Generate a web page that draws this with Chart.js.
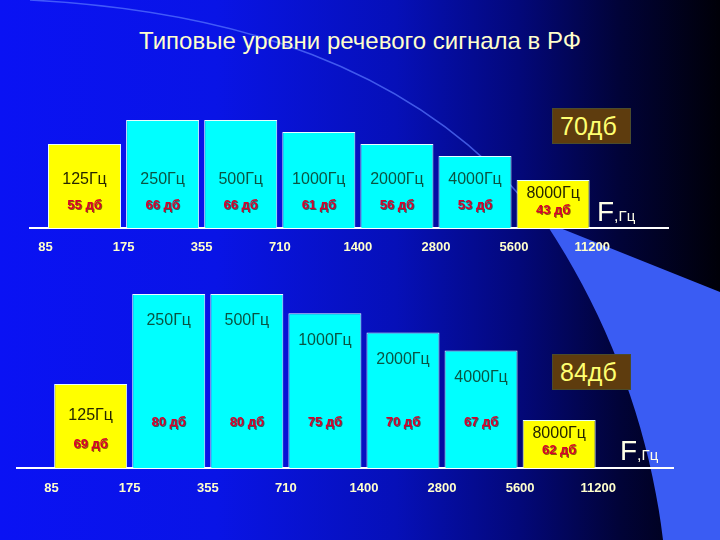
<!DOCTYPE html>
<html lang="ru">
<head>
<meta charset="UTF-8">
<script src="https://cdn.jsdelivr.net/npm/chart.js"></script>
<title>Типовые уровни речевого сигнала в РФ</title>
<style>
  html, body { margin: 0; padding: 0; }
  body {
    width: 720px; height: 540px; position: relative; overflow: hidden;
    background: linear-gradient(90deg, #0a12f4 0%, #0914e6 30%, #0610b8 55%, #03087a 72%, #010338 86%, #000008 100%);
    font-family: "Liberation Sans", Arial, sans-serif;
  }
  #bg, canvas { position: absolute; left: 0; top: 0; }
  h1 {
    position: absolute; margin: 0; left: 0; width: 720px; top: 27px;
    text-align: center; font-weight: normal; font-size: 24px; color: #ffffcc;
  }
  .total {
    position: absolute; width: 79px; height: 36px; box-sizing: border-box;
    background: #5e3c0e; border: 1px solid #4b4b2c; color: #ffff70;
    font-size: 25px; line-height: 34px; padding-left: 7px;
  }
  .unit { position: absolute; color: #ffffe8; white-space: nowrap; line-height: 28px; }
  .unit .f { font-size: 28px; }
  .unit .hz { font-size: 15px; }
</style>
</head>
<body>

<svg id="bg" width="720" height="540">
  <path d="M545,222 L720,292 L720,540 L663,540 C650,430 610,320 545,222 Z" fill="#3a5cf3"/>
  <path d="M30,0 C220,10 420,60 545,226" fill="none" stroke="#5a78ff" stroke-width="1.5" opacity="0.7"/>
</svg>

<h1>Типовые уровни речевого сигнала в РФ</h1>

<canvas id="chart70" width="720" height="540"></canvas>
<canvas id="chart84" width="720" height="540"></canvas>

<div class="total" id="total70" style="left:552px;top:108px"></div>
<div class="total" id="total84" style="left:552px;top:354px"></div>
<div class="unit" style="left:597px;top:198px"><span class="f">F</span>,<span class="hz">Гц</span></div>
<div class="unit" style="left:620px;top:437px"><span class="f">F</span>,<span class="hz">Гц</span></div>

<script>
// octave band edges and centres, Hz
const bandEdges = [85, 175, 355, 710, 1400, 2800, 5600, 11200];
const centerFreqs = [125, 250, 500, 1000, 2000, 4000, 8000];

// upper chart, total level 70 dB
const levels70 = [55, 66, 66, 61, 56, 53, 43];
const bars70 = [7, 9, 9, 8, 7, 6, 4];

// lower chart, total level 84 dB
const levels84 = [69, 80, 80, 75, 70, 67, 62];
const bars84 = [7, 14.5, 14.5, 12.9, 11.3, 9.8, 4];

const totals = [70, 84];

const FONT = '"Liberation Sans", Arial, sans-serif';

document.getElementById('total70').textContent = totals[0] + 'дб';
document.getElementById('total84').textContent = totals[1] + 'дб';

// writes "125Гц" and "55 дб" inside every bar
const bandLabels = {
    id: 'bandLabels',
    afterDatasetsDraw(chart, args, opts) {
        const ctx = chart.ctx;
        const ds = chart.data.datasets[0];
        const meta = chart.getDatasetMeta(0);
        const last = meta.data.length - 1;
        ctx.save();
        ctx.textAlign = 'center';
        ctx.textBaseline = 'middle';
        meta.data.forEach((bar, i) => {
            const top = bar.y, base = bar.base, h = base - top;
            const edge = i === 0 || i === last;
            let hzY, dbY;
            if (h < 60) { hzY = top + 14; dbY = hzY + 16; }
            else if (opts.mode === 'hang' && edge) { hzY = top + 32; dbY = base - 24; }
            else if (opts.mode === 'hang') { hzY = top + 27; dbY = base - 46; }
            else { hzY = base - 48; dbY = base - 23; }

            ctx.shadowColor = 'transparent';
            ctx.font = '16px ' + FONT;
            ctx.fillStyle = edge ? '#262600' : '#0a5442';
            ctx.fillText(centerFreqs[i] + 'Гц', bar.x, hzY);

            ctx.font = 'bold 13px ' + FONT;
            ctx.shadowColor = 'rgba(60,0,0,0.6)';
            ctx.shadowOffsetX = 1;
            ctx.shadowOffsetY = 1;
            ctx.fillStyle = '#d8002c';
            ctx.fillText(ds.levels[i] + ' дб', bar.x, dbY);
        });
        ctx.restore();
    }
};

function makeChart(id, heights, levels, o) {
    const last = heights.length - 1;
    return new Chart(document.getElementById(id), {
        type: 'bar',
        data: {
            datasets: [{
                data: heights.map((h, i) => ({ x: i + 0.5, y: h })),
                levels: levels,
                backgroundColor: c => (c.dataIndex === 0 || c.dataIndex === last) ? '#ffff00' : '#00ffff',
                borderColor: '#e8ffff',
                borderWidth: 1,
                barPercentage: 0.935,
                categoryPercentage: 1
            }]
        },
        options: {
            responsive: false,
            animation: false,
            layout: { padding: o.padding },
            plugins: {
                legend: { display: false },
                tooltip: { enabled: false },
                bandLabels: { mode: o.mode }
            },
            scales: {
                x: {
                    type: 'linear',
                    offset: false,
                    min: o.xmin,
                    max: o.xmax,
                    afterBuildTicks: s => { s.ticks = bandEdges.map((e, i) => ({ value: i })); },
                    afterFit: s => { s.height = 30; },
                    grid: { display: false, drawTicks: false, offset: false },
                    border: { display: true, color: '#ffffff', width: 2 },
                    ticks: {
                        padding: o.tickPad,
                        color: '#ffffcc',
                        maxRotation: 0,
                        autoSkip: false,
                        font: { family: FONT, size: 13, weight: 'bold' },
                        callback: (v, i) => bandEdges[i]
                    }
                },
                y: { display: false, min: 0, max: o.ymax }
            }
        },
        plugins: [bandLabels]
    });
}

makeChart('chart70', bars70, levels70, {
    padding: { left: 30, right: 52, top: 108, bottom: 282 },
    xmin: -0.198, xmax: 7.971, ymax: 10, tickPad: 12, mode: 'fixed'
});

makeChart('chart84', bars84, levels84, {
    padding: { left: 17, right: 47, top: 276, bottom: 42 },
    xmin: -0.443, xmax: 7.958, ymax: 16, tickPad: 13, mode: 'hang'
});
</script>

</body>
</html>
